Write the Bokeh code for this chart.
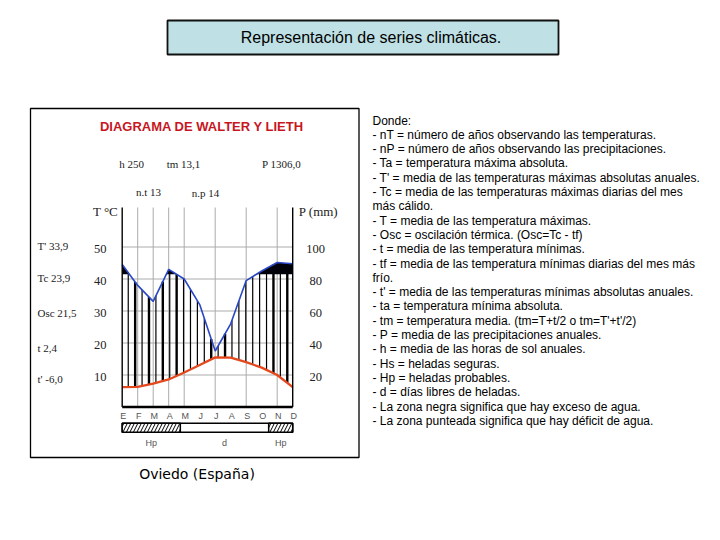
import numpy as np
from bokeh.plotting import figure
from bokeh.models import Range1d, Label, BoxAnnotation, ColumnDataSource
from bokeh.core.properties import value
from bokeh.embed import file_html
from bokeh.resources import INLINE

# ---------------------------------------------------------------- data
months = ["E", "F", "M", "A", "M", "J", "J", "A", "S", "O", "N", "D"]
temp_c = [6.2, 6.3, 7.3, 8.6, 10.8, 13.1, 15.5, 15.4, 14.0, 12.3, 10.0, 6.2]
precip_mm = [89.0, 76.0, 66.0, 86.0, 80.0, 64.0, 35.0, 52.0, 79.0, 85.0, 90.3, 89.5]
temp_ticks = [10, 20, 30, 40, 50]
precip_ticks = [20, 40, 60, 80, 100]

# frost periods in month units (0 = enero ... 11 = diciembre)
frost_probable = [(0.0, 3.75), (9.45, 11.0)]
frost_free = (3.75, 9.45)
excess_level_mm = 83.0

hours_sun = 250
t_mean = 13.1
p_annual = 1306.0
n_years_t = 13
n_years_p = 14
t_abs_max_mean = 33.9
t_warm_max = 23.9
osc = 21.5
t_min_mean = 2.4
t_abs_min_mean = -6.0

legend_lines = [
    "Donde:",
    "- nT = número de años observando las temperaturas.",
    "- nP = número de años observando las precipitaciones.",
    "- Ta = temperatura máxima absoluta.",
    "-  T' = media de las temperaturas máximas absolutas anuales.",
    "- Tc = media de las temperaturas máximas diarias del mes",
    "más cálido.",
    "- T = media de las temperatura máximas.",
    "- Osc = oscilación térmica. (Osc=Tc - tf)",
    "- t = media de las temperatura mínimas.",
    "- tf = media de las temperatura mínimas diarias del mes más",
    "frío.",
    "- t' = media de las temperaturas mínimas absolutas anuales.",
    "- ta = temperatura mínima absoluta.",
    "- tm = temperatura media. (tm=T+t/2 o tm=T'+t'/2)",
    "- P = media de las precipitaciones anuales.",
    "- h = media de las horas de sol anuales.",
    "- Hs = heladas seguras.",
    "- Hp = heladas probables.",
    "- d = días libres de heladas.",
    "- La zona negra significa que hay exceso de agua.",
    "- La zona punteada significa que hay déficit de agua.",
]

# ---------------------------------------------------------------- layout
W, H = 720, 540
X0, DX = 121.7, 15.5      # pixel of January, pixels per month
Y0, DY = 406.5, 3.2       # pixel of 0 °C, pixels per degree
P_PER_C = 2.0             # Walter-Lieth: 1 °C = 2 mm


def t_at(py):
    """Temperature value that sits at a given pixel row."""
    return (Y0 - py) / DY


def fmt(v):
    return f"{v:.1f}".replace(".", ",")


T_TOP = t_at(207)

p = figure(width=W, height=H, title=None,
           x_range=Range1d(-X0 / DX, (W - X0) / DX),
           y_range=Range1d(-(H - Y0) / DY, Y0 / DY),
           x_axis_location=None, y_axis_location=None,
           toolbar_location=None, output_backend="svg",
           min_border=0, outline_line_color=None,
           background_fill_color="white", border_fill_color="white")
p.extra_y_ranges = {"P": Range1d(-(H - Y0) / DY * P_PER_C, Y0 / DY * P_PER_C)}
p.xgrid.visible = False
p.ygrid.visible = False

mi = np.arange(len(months), dtype=float)
temp = np.array(temp_c)
prec = np.array(precip_mm)

SERIF = value("Liberation Serif")
SANS = value("Liberation Sans")

# grid
p.segment(x0=0, x1=11, y0=temp_ticks, y1=temp_ticks, line_color="#ababab", line_width=1)
grid_months = [1, 2, 3, 4, 6, 8, 10]
p.segment(x0=grid_months, x1=grid_months, y0=0, y1=T_TOP, line_color="#ababab", line_width=1)

# humid-period hatching between the two curves
hx = np.linspace(0.39, 10.65, 24)
hw = [1.2] * 24
for k in (1, 3, 5, 7, 12, 14, 21, 23):
    hw[k] = 2.4
hatch_src = ColumnDataSource(dict(
    x=hx,
    y0=np.interp(hx, mi, temp),
    y1=np.interp(hx, mi, prec) / P_PER_C,
    w=hw,
))
p.segment(x0="x", x1="x", y0="y0", y1="y1", line_width="w", line_color="black", source=hatch_src)

# water excess zone
xf = np.linspace(0, 11, 600)
pf = np.interp(xf, mi, prec)
p.varea(x=xf, y1=np.minimum(pf, excess_level_mm), y2=pf, y_range_name="P", fill_color="#000008")

# curves
p.line(mi, prec, y_range_name="P", line_color="#2a47c4", line_width=1.6)
p.line(mi, temp, line_color="#e4491d", line_width=2.3)

# axes
p.segment(x0=[0, 11], x1=[0, 11], y0=0, y1=T_TOP, line_color="black", line_width=1.4)
p.segment(x0=0, x1=11, y0=0, y1=0, line_color="black", line_width=2.6)

p.text(x=[0] * 5, y=temp_ticks, text=[str(v) for v in temp_ticks],
       x_offset=-22, y_offset=1.5, text_align="center", text_baseline="middle",
       text_font=SERIF, text_font_size="12.5px", text_color="#222222")
p.text(x=[11] * 5, y=precip_ticks, text=[str(v) for v in precip_ticks],
       y_range_name="P", x_offset=23, y_offset=1.5, text_align="center", text_baseline="middle",
       text_font=SERIF, text_font_size="12.5px", text_color="#222222")
p.text(x=mi, y=0, text=months, x_offset=1, y_offset=9,
       text_align="center", text_baseline="middle",
       text_font=SANS, text_font_size="9px", text_color="#555555")

# frost bar
bar_top, bar_bot = t_at(422.7), t_at(431.7)
p.quad(left=0, right=11, bottom=bar_bot, top=bar_top,
       fill_color="white", line_color="black", line_width=1.5)
p.quad(left=[a for a, b in frost_probable], right=[b for a, b in frost_probable],
       bottom=bar_bot, top=bar_top, fill_color="white",
       hatch_pattern="/", hatch_color="black", hatch_scale=7, hatch_weight=1,
       line_color="black", line_width=1.5)
bar_centers = [sum(frost_probable[0]) / 2, sum(frost_free) / 2, sum(frost_probable[1]) / 2]
p.text(x=bar_centers, y=bar_bot, text=["Hp", "d", "Hp"], y_offset=11,
       text_align="center", text_baseline="middle",
       text_font=SANS, text_font_size="9px", text_color="#555555")

# ---------------------------------------------------------------- annotations
def label(text, x, y, size, font="Liberation Serif", align="left", color="#222222", style="normal"):
    p.add_layout(Label(x=x, y=H - y, x_units="screen", y_units="screen", text=text,
                       text_font=font, text_font_size=size, text_color=color,
                       text_align=align, text_baseline="middle", text_font_style=style))


# slide title
p.add_layout(BoxAnnotation(left=167, right=558, top=H - 20, bottom=H - 54,
                           left_units="screen", right_units="screen",
                           top_units="screen", bottom_units="screen",
                           fill_color="#bfe0e5", fill_alpha=1,
                           line_color="#111111", line_width=1.8, line_alpha=1))
label("Representación de series climáticas.", 370.5, 37, "16px", font="Liberation Sans",
      align="center", color="black")

# diagram frame
p.add_layout(BoxAnnotation(left=30, right=358.5, top=H - 108, bottom=H - 457,
                           left_units="screen", right_units="screen",
                           top_units="screen", bottom_units="screen",
                           fill_alpha=0, line_color="black", line_width=1.3, line_alpha=1))
label("DIAGRAMA DE WALTER Y LIETH", 201.5, 126, "13px", font="Liberation Sans",
      align="center", color="#c8161f", style="bold")

label(f"h {hours_sun}", 131, 163, "11px", align="center")
label(f"tm {fmt(t_mean)}", 183, 163, "11px", align="center")
label(f"P {fmt(p_annual)}", 281, 163, "11px", align="center")
label(f"n.t {n_years_t}", 148, 191, "11px", align="center")
label(f"n.p {n_years_p}", 205, 192, "11px", align="center")
label("T °C", 105, 211, "13px", align="center")
label("P (mm)", 318, 211, "13px", align="center")

for txt, y in [(f"T' {fmt(t_abs_max_mean)}", 245), (f"Tc {fmt(t_warm_max)}", 277),
               (f"Osc {fmt(osc)}", 312), (f"t {fmt(t_min_mean)}", 347),
               (f"t' {fmt(t_abs_min_mean)}", 378)]:
    label(txt, 37, y, "11px")

label("Oviedo (España)", 196.5, 473, "14px", font="DejaVu Sans", align="center", color="black")

for i, line in enumerate(legend_lines):
    label(line, 372, 120 + i * 14.3, "12px", font="Liberation Sans", color="black")

open("out.html", "w").write(file_html(p, INLINE))
